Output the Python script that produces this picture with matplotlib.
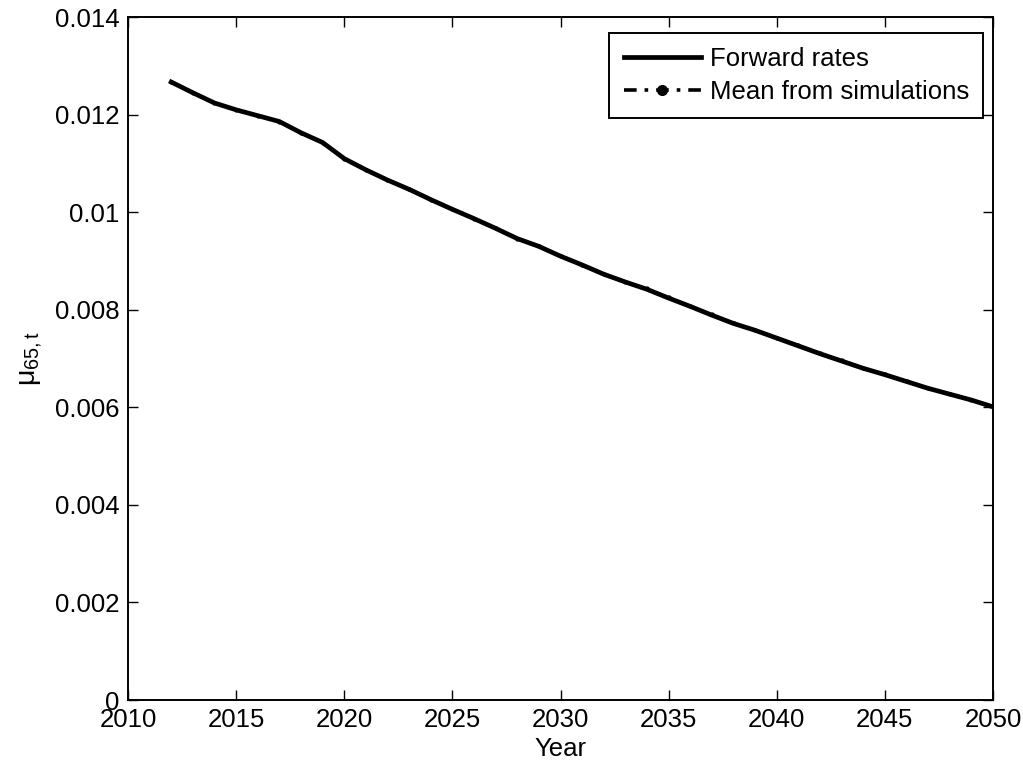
import numpy as np
import matplotlib.pyplot as plt
from matplotlib.lines import Line2D

plt.rcParams['font.family'] = ['Liberation Sans', 'DejaVu Sans']
plt.rcParams['mathtext.fontset'] = 'custom'
plt.rcParams['mathtext.rm'] = 'Liberation Sans'
plt.rcParams['mathtext.it'] = 'Liberation Sans'

years = list(range(2012, 2051))
forward = [0.01267, 0.01245, 0.01224, 0.01210, 0.01198, 0.01186, 0.01163, 0.01143,
           0.01110, 0.01087, 0.01066, 0.01047, 0.01026, 0.01006, 0.00987, 0.00967,
           0.00946, 0.00930, 0.00910, 0.00892, 0.00873, 0.00857, 0.00842, 0.00824,
           0.00807, 0.00789, 0.00772, 0.00758, 0.00742, 0.00726, 0.00710, 0.00695,
           0.00680, 0.00667, 0.00653, 0.00639, 0.00627, 0.00615, 0.00601]
sim_mean = [0.01267, 0.01245, 0.01224, 0.01210, 0.01198, 0.01186, 0.01163, 0.01143,
            0.01110, 0.01087, 0.01066, 0.01047, 0.01026, 0.01006, 0.00987, 0.00967,
            0.00946, 0.00930, 0.00910, 0.00892, 0.00874, 0.00858, 0.00844, 0.00826,
            0.00808, 0.00791, 0.00773, 0.00759, 0.00743, 0.00728, 0.00711, 0.00697,
            0.00681, 0.00668, 0.00655, 0.00640, 0.00628, 0.00616, 0.00603]

yticks = [0, 0.002, 0.004, 0.006, 0.008, 0.01, 0.012, 0.014]
ytick_labels = ['0', '0.002', '0.004', '0.006', '0.008', '0.01', '0.012', '0.014']
xticks = [2010, 2015, 2020, 2025, 2030, 2035, 2040, 2045, 2050]

fs = 18.5
fig = plt.figure(figsize=(10.23, 7.69), dpi=100)
ax = fig.add_axes([0.1251, 0.0897, 0.8456, 0.888])

ax.plot(years, sim_mean, color='k', ls='-.', marker='.', markersize=4, lw=1.5, zorder=2)
ax.plot(years, forward, color='k', ls='-', lw=3.4, zorder=3)

ax.set_xlim(2010, 2050)
ax.set_ylim(0, 0.014)
ax.set_xticks(xticks)
ax.set_yticks(yticks)
ax.set_yticklabels(ytick_labels)
ax.tick_params(direction='in', length=7, width=1, labelsize=fs,
               top=True, right=True, pad=6)
for s in ax.spines.values():
    s.set_linewidth(1.4)

ax.set_xlabel('Year', fontsize=fs, labelpad=3)
ax.set_ylabel(r'$\mu_{65,t}$', fontsize=fs + 2, labelpad=8)

handles = [Line2D([], [], color='k', ls='-', lw=3.4),
           Line2D([], [], color='k', lw=2.6, dashes=(3.5, 2.2, 1, 2.2),
                  marker='.', markersize=14)]
leg = ax.legend(handles, ['Forward rates', 'Mean from simulations'],
                loc='upper right', bbox_to_anchor=(0.9884, 0.9766), borderaxespad=0,
                fontsize=fs, handlelength=3.0, numpoints=1,
                fancybox=False, framealpha=1, edgecolor='black',
                borderpad=0.55, labelspacing=0.35, handletextpad=0.35)
leg.get_frame().set_linewidth(1.4)

fig.savefig('out.png', dpi=100)
